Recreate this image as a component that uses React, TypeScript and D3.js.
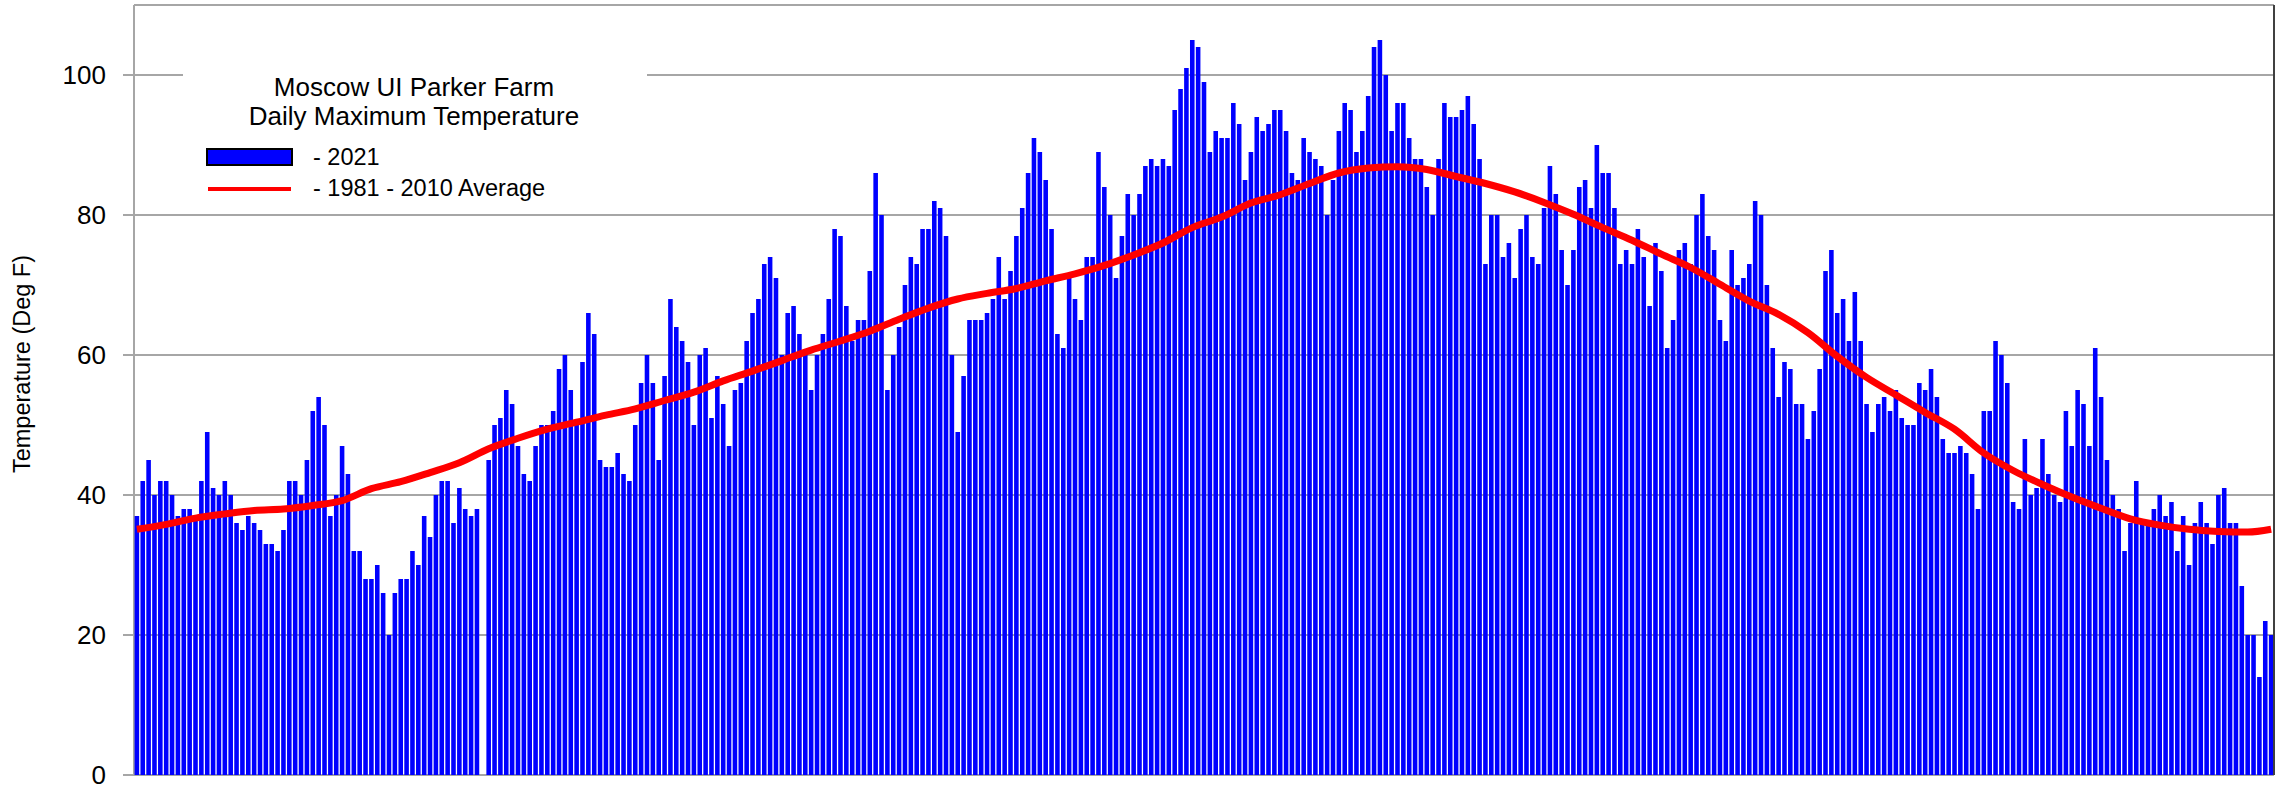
import React, { useEffect, useRef } from 'react';
import * as d3 from 'd3';

const W = 2285;
const H = 791;

// daily max temperature 2021 (deg F), one value per day, null = missing
const tmax2021: (number | null)[] = [
  37, 42, 45, 40, 42, 42, 40, 37, 38, 38,
  37, 42, 49, 41, 40, 42, 40, 36, 35, 37,
  36, 35, 33, 33, 32, 35, 42, 42, 40, 45,
  52, 54, 50, 37, 40, 47, 43, 32, 32, 28,
  28, 30, 26, 20, 26, 28, 28, 32, 30, 37,
  34, 40, 42, 42, 36, 41, 38, 37, 38, null,
  45, 50, 51, 55, 53, 47, 43, 42, 47, 50,
  50, 52, 58, 60, 55, 50, 59, 66, 63, 45,
  44, 44, 46, 43, 42, 50, 56, 60, 56, 45,
  57, 68, 64, 62, 59, 50, 60, 61, 51, 57,
  53, 47, 55, 56, 62, 66, 68, 73, 74, 71,
  60, 66, 67, 63, 60, 55, 60, 63, 68, 78,
  77, 67, 62, 65, 65, 72, 86, 80, 55, 60,
  64, 70, 74, 73, 78, 78, 82, 81, 77, 60,
  49, 57, 65, 65, 65, 66, 68, 74, 68, 72,
  77, 81, 86, 91, 89, 85, 78, 63, 61, 71,
  68, 65, 74, 74, 89, 84, 80, 71, 77, 83,
  80, 83, 87, 88, 87, 88, 87, 95, 98, 101,
  105, 104, 99, 89, 92, 91, 91, 96, 93, 85,
  89, 94, 92, 93, 95, 95, 92, 86, 85, 91,
  89, 88, 87, 80, 85, 92, 96, 95, 89, 92,
  97, 104, 105, 100, 92, 96, 96, 91, 88, 88,
  84, 80, 88, 96, 94, 94, 95, 97, 93, 88,
  73, 80, 80, 74, 76, 71, 78, 80, 74, 73,
  81, 87, 83, 75, 70, 75, 84, 85, 81, 90,
  86, 86, 81, 73, 75, 73, 78, 74, 67, 76,
  72, 61, 65, 75, 76, 73, 80, 83, 77, 75,
  65, 62, 75, 70, 71, 73, 82, 80, 70, 61,
  54, 59, 58, 53, 53, 48, 52, 58, 72, 75,
  66, 68, 62, 69, 62, 53, 49, 53, 54, 52,
  55, 51, 50, 50, 56, 55, 58, 54, 48, 46,
  46, 47, 46, 43, 38, 52, 52, 62, 60, 56,
  39, 38, 48, 40, 41, 48, 43, 40, 39, 52,
  47, 55, 53, 47, 61, 54, 45, 40, 38, 32,
  36, 42, 36, 36, 38, 40, 37, 39, 32, 37,
  30, 36, 39, 36, 33, 40, 41, 36, 36, 27,
  20, 20, 14, 22, 20,
];

// 1981-2010 average, read every 5 days
const avgDay = [
  0, 5, 10, 15, 20, 25, 30, 35, 40, 45, 50, 55, 60, 65, 70, 75, 80, 85, 90, 95,
  100, 105, 110, 115, 120, 125, 130, 135, 140, 145, 150, 155, 160, 165, 170, 175,
  180, 185, 190, 195, 200, 205, 210, 215, 220, 225, 230, 235, 240, 245, 250, 255,
  260, 265, 270, 275, 280, 285, 290, 295, 300, 305, 310, 315, 320, 325, 330, 335,
  340, 345, 350, 355, 360, 364,
];
const avgTemp = [
  35.1, 35.8, 36.7, 37.3, 37.8, 38.0, 38.5, 39.2, 40.9, 41.9, 43.2, 44.6, 46.6, 48.1,
  49.4, 50.4, 51.4, 52.3, 53.5, 54.7, 56.3, 57.7, 59.2, 60.7, 62.0, 63.4, 65.1, 66.7,
  68.0, 68.8, 69.5, 70.6, 71.6, 72.8, 74.3, 76.0, 78.2, 79.7, 81.7, 82.9, 84.5, 86.0,
  86.7, 86.9, 86.5, 85.5, 84.5, 83.3, 81.8, 80.1, 78.2, 76.4, 74.4, 72.5, 70.1, 67.7,
  65.8, 63.2, 59.8, 56.8, 54.3, 51.8, 49.4, 46.0, 43.5, 41.5, 39.7, 38.1, 36.6, 35.7,
  35.1, 34.8, 34.7, 35.1,
];

const yTicks = [0, 20, 40, 60, 80, 100];
const titleLines = ['Moscow UI Parker Farm', 'Daily Maximum Temperature'];
const legendLabels = ['- 2021', '- 1981 - 2010 Average'];
const yTitle = 'Temperature (Deg F)';

const FONT = '"Liberation Sans", Arial, sans-serif';

export default function App() {
  const ref = useRef<SVGSVGElement>(null);

  useEffect(() => {
    const svg = d3.select(ref.current);
    svg.selectAll('*').remove();

    const left = 134;
    const right = 2274;
    const top = 5;
    const bottom = 775;

    const x = d3
      .scaleBand<number>()
      .domain(d3.range(tmax2021.length))
      .range([left, right])
      .paddingInner(0.22)
      .paddingOuter(0.1);
    const y = d3.scaleLinear().domain([0, 110]).range([bottom, top]);
    const bw = x.bandwidth();
    const xd = d3
      .scaleLinear()
      .domain([0, tmax2021.length - 1])
      .range([x(0)! + bw / 2, x(tmax2021.length - 1)! + bw / 2]);

    // grid lines + tick marks
    svg
      .append('g')
      .selectAll('line')
      .data(yTicks)
      .enter()
      .append('line')
      .attr('x1', left - 11)
      .attr('x2', right)
      .attr('y1', (d) => y(d))
      .attr('y2', (d) => y(d))
      .attr('stroke', '#a6a6a6')
      .attr('stroke-width', 2);

    // frame
    svg
      .append('line')
      .attr('x1', left)
      .attr('x2', right)
      .attr('y1', top)
      .attr('y2', top)
      .attr('stroke', '#a6a6a6')
      .attr('stroke-width', 2);
    svg
      .append('line')
      .attr('x1', left)
      .attr('x2', left)
      .attr('y1', top)
      .attr('y2', bottom)
      .attr('stroke', '#a6a6a6')
      .attr('stroke-width', 2);

    // legend background
    svg
      .append('rect')
      .attr('x', 183)
      .attr('y', 48)
      .attr('width', 464)
      .attr('height', 158)
      .attr('fill', '#fff');

    // bars
    svg
      .append('g')
      .selectAll('rect')
      .data(tmax2021.map((v, i) => ({ v, i })).filter((d) => d.v != null))
      .enter()
      .append('rect')
      .attr('x', (d) => x(d.i)!)
      .attr('width', bw)
      .attr('y', (d) => y(d.v as number))
      .attr('height', (d) => bottom - y(d.v as number))
      .attr('fill', '#0000ff');

    // average line
    const line = d3
      .line<number>()
      .x((d, i) => xd(avgDay[i]))
      .y((d) => y(d))
      .curve(d3.curveMonotoneX);
    svg
      .append('path')
      .attr('d', line(avgTemp))
      .attr('fill', 'none')
      .attr('stroke', '#ff0000')
      .attr('stroke-width', 7)
      .attr('stroke-linejoin', 'round');

    svg
      .append('line')
      .attr('x1', right)
      .attr('x2', right)
      .attr('y1', top)
      .attr('y2', bottom)
      .attr('stroke', '#404040')
      .attr('stroke-width', 2);

    // y labels
    svg
      .append('g')
      .selectAll('text')
      .data(yTicks)
      .enter()
      .append('text')
      .attr('x', 106)
      .attr('y', (d) => y(d) + 9)
      .attr('text-anchor', 'end')
      .attr('font-family', FONT)
      .attr('font-size', 26)
      .attr('fill', '#000')
      .text((d) => d);

    svg
      .append('text')
      .attr('transform', 'translate(30,364) rotate(-90)')
      .attr('text-anchor', 'middle')
      .attr('font-family', FONT)
      .attr('font-size', 23.5)
      .attr('fill', '#000')
      .text(yTitle);

    // legend
    const lg = svg.append('g').attr('font-family', FONT).attr('fill', '#000');
    lg.selectAll('text.title')
      .data(titleLines)
      .enter()
      .append('text')
      .attr('class', 'title')
      .attr('x', 414)
      .attr('y', (d, i) => 96 + i * 29)
      .attr('text-anchor', 'middle')
      .attr('font-size', 26)
      .text((d) => d);
    lg.append('rect')
      .attr('x', 207)
      .attr('y', 149)
      .attr('width', 85)
      .attr('height', 16)
      .attr('fill', '#0000ff')
      .attr('stroke', '#000')
      .attr('stroke-width', 2);
    lg.append('line')
      .attr('x1', 208)
      .attr('x2', 291)
      .attr('y1', 189)
      .attr('y2', 189)
      .attr('stroke', '#ff0000')
      .attr('stroke-width', 4);
    lg.selectAll('text.item')
      .data(legendLabels)
      .enter()
      .append('text')
      .attr('class', 'item')
      .attr('x', 313)
      .attr('y', (d, i) => 165 + i * 31)
      .attr('font-size', 23.5)
      .text((d) => d);
  }, []);

  return (
    <div style={{ position: 'absolute', left: 0, top: 0 }}>
      <svg ref={ref} width={W} height={H} style={{ display: 'block', background: '#fff' }} />
    </div>
  );
}
